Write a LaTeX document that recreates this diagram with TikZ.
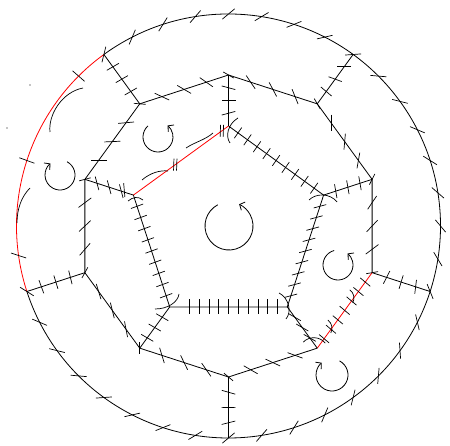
\documentclass[tikz,border=0pt]{standalone}
\usetikzlibrary{calc,arrows.meta}
\newcommand{\eticks}[8]{%
  \foreach \k in {#4,...,#5}{%
    \pgfmathsetmacro{\ang}{#6+(#7-#6)*(\k-#4)/max(#5-#4,1)}%
    \draw[tk] ($(#1)!\k/#3!(#2)$) ++(\ang:#8/2) -- ++(\ang+180:#8);
  }}
\newcommand{\onetick}[3]{\draw[tk] #1 ++(#2:#3/2) -- ++(#2+180:#3);}
\begin{document}
\begin{tikzpicture}[x=1pt,y=1pt,
  edge/.style={line width=0.8pt,black},
  cut/.style={line width=0.8pt,red},
  tk/.style={line width=0.7pt,black},
  carr/.style={line width=0.8pt,-{Straight Barb[length=4pt,width=9pt]}},
  marc/.style={line width=0.7pt}]
\useasboundingbox (0,0) rectangle (450,-446);
\coordinate (C) at (228.5,-226);
\foreach \n/\a in {Pa/90,Pb/18,Pc/-54,Pd/-126,Pe/162}
  \coordinate (\n) at ($(C)+(\a:100)$);
\foreach \n/\a in {Da/90,Db/54,Dc/18,Dd/-18,De/-54,Df/-90,Dg/-126,Dh/-162,Di/162,Dj/126}
  \coordinate (\n) at ($(C)+(\a:151)$);
\foreach \n/\a in {Cb/54,Cd/-18,Cf/-90,Ch/-162,Cj/126}
  \coordinate (\n) at ($(C)+(\a:212)$);

% circle
\draw[edge] (Cj) arc[start angle=126,end angle=-162,radius=212];
\draw[cut] (Ch) arc[start angle=198,end angle=126,radius=212];
% decagon
\draw[edge] (Dd) -- (Dc) -- (Db) -- (Da) -- (Dj) -- (Di) -- (Dh) -- (Dg) -- (Df) -- (De);
\draw[cut] (Dd) -- (De);
% pentagon
\draw[edge] (Pe) -- (Pd) -- (Pc) -- (Pb) -- (Pa);
\draw[cut] (Pe) -- (Pa);
% spokes
\draw[edge] (Da) -- (Pa);
\draw[edge] (Dc) -- (Pb);
\draw[edge] (De) -- (Pc);
\draw[edge] (Dg) -- (Pd);
\draw[edge] (Di) -- (Pe);
\draw[edge] (Db) -- (Cb);
\draw[edge] (Dd) -- (Cd);
\draw[edge] (Df) -- (Cf);
\draw[edge] (Dh) -- (Ch);
\draw[edge] (Dj) -- (Cj);

% circle ticks
\foreach \k in {0,...,32}{%
  \pgfmathsetmacro{\th}{126-9*\k}%
  \draw[tk] ($(C)+(\th:212)$) ++(\th-50:8) -- ++(\th+130:16);}
\onetick{($(C)+(135:212)$)}{139}{16}
\onetick{($(C)+(162:212)$)}{160}{16}
\onetick{($(C)+(188:212)$)}{162}{16}

% decagon ticks
\eticks{Dj}{Da}{4}{1}{3}{-25}{-35}{16}
\eticks{Da}{Db}{4}{1}{3}{-56}{-68}{16}
\eticks{Db}{Dc}{4}{1}{3}{90}{80}{16}
\eticks{Dc}{Dd}{4}{1}{3}{56}{37}{16}
\eticks{De}{Df}{4}{1}{3}{-20}{-30}{16}
\eticks{Df}{Dg}{4}{1}{3}{-55}{-73}{16}
\eticks{Dg}{Dh}{4}{1}{3}{-79}{-73}{16}
\eticks{Dh}{Di}{4}{1}{3}{49}{37}{16}
\eticks{Di}{Dj}{4}{1}{3}{0}{5}{16}
\onetick{(Da)}{-30}{12}
\onetick{(Db)}{-60}{12}
\onetick{(Dc)}{63}{12}
\onetick{(Dd)}{10}{12}
\onetick{(Df)}{-40}{12}
\onetick{(Dg)}{90}{12}
\onetick{(Dh)}{61}{12}
\onetick{(Di)}{15}{12}
\onetick{(Dj)}{-5}{12}
% red decagon edge
\eticks{Dd}{De}{8}{1}{7}{-40}{-40}{13}
\draw[marc] ($(Dd)!0.28!(De)+(-7,4)$) to[bend left=40] ($(Dd)!0.28!(De)+(-4,-9)$);
\draw[marc] ($(Dd)!0.68!(De)+(-7,4)$) to[bend left=40] ($(Dd)!0.68!(De)+(-4,-9)$);
\draw[marc] ($(De)+(-14,6)$) to[bend left=50] ($(De)+(8,5)$);

% outer spokes
\eticks{Db}{Cb}{4}{1}{3}{-40}{0}{14}
\eticks{Dd}{Cd}{4}{1}{3}{63}{83}{14}
\eticks{Df}{Cf}{4}{1}{3}{-16}{14}{14}
\eticks{Dh}{Ch}{4}{1}{3}{-76}{-70}{14}
\eticks{Dj}{Cj}{4}{1}{3}{30}{30}{14}
% inner spokes
\eticks{Da}{Pa}{4}{1}{3}{-15}{15}{14}
\eticks{Dc}{Pb}{4}{1}{3}{-80}{-80}{14}
\eticks{De}{Pc}{4}{1}{3}{-30}{-30}{14}
\eticks{Dg}{Pd}{4}{1}{3}{-30}{-30}{14}
\eticks{Di}{Pe}{4}{1}{3}{-75}{-75}{14}
\onetick{($(Di)!0.75!(Pe)+(3,1)$)}{-85}{14}

% pentagon ticks
\eticks{Pa}{Pb}{10}{1}{9}{55}{55}{13}
\eticks{Pb}{Pc}{10}{1}{9}{15}{15}{13}
\eticks{Pd}{Pc}{12}{2}{11}{90}{90}{15}
\eticks{Pd}{Pe}{10}{1}{9}{20}{20}{13}
% red pentagon edge marks
\onetick{($(Pe)!0.44!(Pa)+(-1.5,0)$)}{88}{12}
\onetick{($(Pe)!0.44!(Pa)+(1.5,0)$)}{88}{12}
\onetick{($(Pe)!0.93!(Pa)+(-1.5,0)$)}{88}{12}
\onetick{($(Pe)!0.93!(Pa)+(1.5,0)$)}{88}{12}
\draw[marc] (142,-180) .. controls (150,-173) and (160,-170) .. (168,-171);
\draw[marc] (186,-148) .. controls (195,-142) and (205,-140) .. (213,-133);

% vertex arcs
\draw[marc] (238,-118) .. controls (228,-124) and (225,-136) .. (230,-143);
\draw[marc] (309,-200) .. controls (316,-193) and (330,-193) .. (337,-202);
\draw[marc] (279,-293) .. controls (289,-298) and (292,-312) .. (286,-319);
\draw[marc] (155,-309) .. controls (168,-309) and (178,-302) .. (179,-294);
\draw[marc] (128,-201) .. controls (133,-197) and (138,-196) .. (143,-200);

% arcs near the red circle arc
\draw[marc] (50,-132) .. controls (48,-115) and (62,-92) .. (83,-88);
\draw[marc] (30,-188) .. controls (22,-196) and (17,-208) .. (17,-223);

% dots
\fill (30,-85) circle (0.6);
\fill (7,-128) circle (0.6);

% circular arrows
\coordinate (AL) at (60,-175);
\coordinate (AU) at (158,-137);
\coordinate (AC) at (229,-226);
\coordinate (AR) at (338,-265);
\coordinate (AD) at (332,-375);
\draw[carr] ($(AL)+(62:15)$) arc[start angle=62,end angle=-230,radius=15];
\draw[carr] ($(AU)+(132:15)$) arc[start angle=132,end angle=410,radius=15];
\draw[carr] ($(AC)+(118:24)$) arc[start angle=118,end angle=425,radius=24];
\draw[carr] ($(AR)+(105:15)$) arc[start angle=105,end angle=410,radius=15];
\draw[carr] ($(AD)+(62:16)$) arc[start angle=62,end angle=-230,radius=16];
\end{tikzpicture}
\end{document}
